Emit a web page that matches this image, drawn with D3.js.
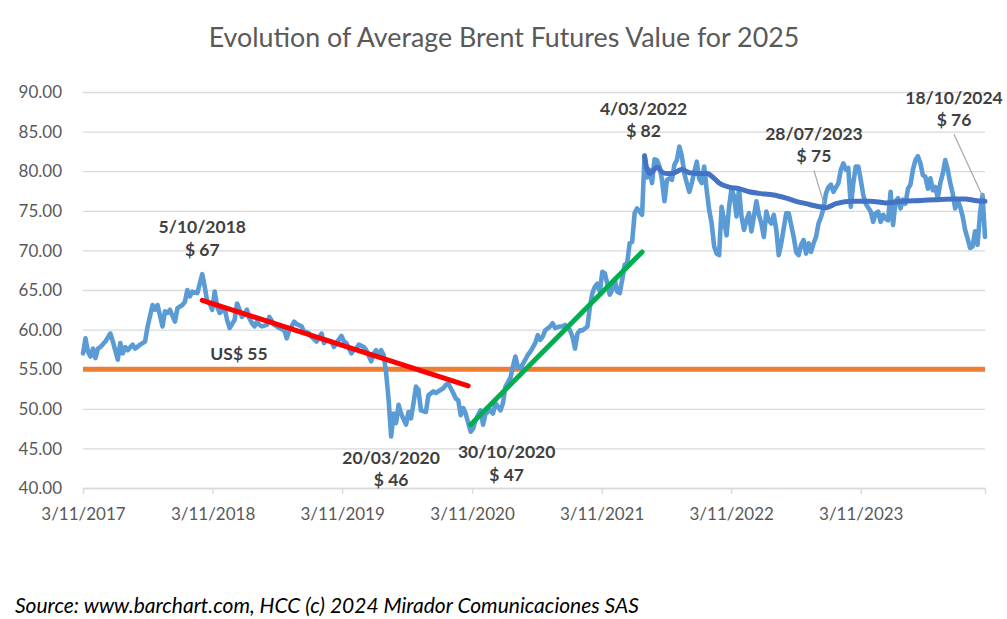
<!DOCTYPE html>
<html><head><meta charset="utf-8">
<script src="https://cdn.jsdelivr.net/npm/d3@7/dist/d3.min.js"></script>
<style>
html,body{margin:0;padding:0;background:#fff;}
svg text{font-family:Lato,"Open Sans",sans-serif;}
</style></head>
<body>
<svg id="chart" width="1007" height="619"></svg>
<script>
// ---------- DATA ----------
const title = "Evolution of Average Brent Futures Value for 2025";
const source = "Source: www.barchart.com, HCC (c) 2024 Mirador Comunicaciones SAS";
const startDate = "2017-11-03";          // weekly Friday closes, week 0
const lastWeek = 363;                    // 18/10/2024
const yTicks = [40, 45, 50, 55, 60, 65, 70, 75, 80, 85, 90];
const xTickLabels = ["3/11/2017","3/11/2018","3/11/2019","3/11/2020","3/11/2021","3/11/2022","3/11/2023"];
// [week since start, price]
const brent = [
[0,57.0],[1,58.9],[2,57.2],[3,56.6],[4,57.6],[5,56.4],[6,57.6],[7,57.8],[9,58.5],[11,59.5],[12,58.5],[14,56.2],[15,58.3],[16,57.0],[17,57.8],[18,57.4],[20,58.1],[21,57.6],[23,58.1],[25,58.5],[26,60.4],[28,63.1],[29,62.5],[30,63.1],[32,60.4],[33,62.3],[34,62.1],[35,62.5],[37,61.0],[38,62.7],[40,63.1],[41,63.5],[42,65.0],[43,64.2],[44,64.8],[46,64.6],[47,65.8],[48,67.0],[49,65.4],[50,63.5],[51,63.3],[52,62.5],[53,64.8],[54,62.9],[55,62.1],[57,62.7],[58,61.2],[59,60.2],[61,61.2],[62,63.3],[63,62.5],[64,61.6],[66,62.5],[67,61.4],[68,60.8],[69,60.4],[70,61.0],[71,60.6],[72,60.4],[74,60.6],
[75,61.6],[77,60.6],[79,60.2],[81,59.9],[82,58.9],[83,59.9],[85,61.0],[86,60.7],[88,60.4],[89,59.7],[90,59.7],[91,59.5],[92,59.1],[94,58.5],[96,59.5],[97,58.3],[98,58.7],[100,58.5],[101,57.8],[102,58.3],[104,59.2],[105,58.5],[106,58.3],[108,57.0],[109,57.4],[110,57.6],[111,58.1],[113,57.8],[114,57.4],[116,56.0],[117,57.0],[118,57.4],[119,56.6],[120,57.4],[121,56.8],[122,54.5],[123,51.1],[124,46.5],[125,49.4],[126,48.2],[127,50.5],[128,49.4],[130,48.0],[131,49.6],[132,48.8],[133,50.7],[134,52.8],[135,52.4],[136,49.8],[138,49.6],[139,51.7],[141,52.2],[142,52.0],[144,52.4],[145,52.6],[146,53.0],[147,53.2],[149,52.0],[150,51.3],[151,51.1],[152,49.2],[153,50.1],[154,49.4],[156,47.1],[157,47.5],
[158,48.6],[160,49.8],[161,48.0],[162,49.4],[164,49.8],[165,49.4],[166,50.7],[168,49.8],[169,50.7],[170,52.8],[172,53.9],[173,55.3],[174,56.6],[175,55.3],[176,55.1],[178,56.2],[179,56.8],[180,57.2],[182,58.3],[183,59.3],[184,58.7],[185,59.1],[186,59.9],[188,60.4],[189,60.8],[190,60.2],[192,60.4],[193,60.4],[194,60.6],[196,59.9],[197,59.1],[198,57.6],[199,59.5],[200,59.9],[201,59.9],[203,60.4],[204,62.9],[205,64.6],[206,65.4],[207,65.8],[208,64.8],[209,67.3],[210,67.1],[211,65.8],[212,64.4],[213,65.0],[214,66.3],[215,64.8],[216,64.6],[217,66.3],[218,68.2],[219,68.4],[220,70.9],[221,71.1],[222,74.7],[223,75.3],[224,74.9],[225,74.5],
[226,82.0],[227,79.2],[228,80.2],[229,78.5],[230,81.5],[231,81.4],[232,80.6],[233,78.9],[234,76.2],[235,78.9],[236,79.1],[237,78.9],[238,80.8],[239,81.4],[240,83.1],[241,81.9],[242,79.7],[243,78.5],[244,77.4],[245,78.5],[246,79.9],[247,81.2],[248,79.0],[249,78.5],[250,80.6],[251,77.6],[252,75.1],[253,73.4],[254,70.5],[255,69.6],[256,69.4],[257,75.5],[258,73.8],[259,71.9],[260,75.5],[261,77.8],[262,76.8],[263,74.3],[264,77.8],[265,74.3],[266,72.6],[267,73.8],[268,74.7],[269,72.4],[270,74.3],[271,76.2],[272,74.5],[273,73.4],[274,71.7],[275,74.9],[276,73.8],[277,73.4],[278,74.5],[279,72.6],[280,69.4],[281,70.9],[282,72.8],[283,74.7],[284,74.7],[285,73.2],[286,71.7],[287,69.8],[288,69.4],[289,70.7],[290,71.3],[291,69.6],[292,70.9],[293,69.8],[294,70.9],[295,71.7],[296,73.4],[297,74.2],
[298,75.3],[299,77.2],[300,78.0],[301,78.3],[302,77.4],[304,78.5],[305,80.2],[306,81.0],[307,80.2],[308,80.4],[309,75.5],[310,78.5],[311,80.6],[312,80.6],[313,78.9],[314,77.0],[315,75.9],[317,74.9],[318,73.6],[319,74.7],[320,74.9],[321,73.6],[322,74.5],[323,74.0],[324,73.8],[325,77.4],[326,73.2],[327,76.2],[328,76.6],[329,75.3],[330,76.4],[331,75.9],[332,77.8],[333,78.3],[334,80.2],[335,81.4],[336,81.9],[337,81.0],[338,79.5],[339,79.3],[340,77.8],[341,79.1],[342,77.6],[343,78.0],[344,76.6],[345,78.5],[346,79.7],[347,81.4],[348,80.2],[349,78.5],[350,77.2],[351,75.3],[352,76.4],[353,75.5],[354,74.3],[355,72.6],[356,71.5],[357,70.3],[358,70.5],[359,72.4],[360,70.7],[361,74.7],[362,77.0],[363,71.7]
];
// running average since 4/03/2022
const average = [
[226,81.9],[227,80.2],[228,79.7],[229,79.9],[231,80.5],[233,79.9],[235,79.7],[237,79.7],[241,80.2],[244,79.8],[248,79.7],[251,79.7],[254,79.1],[256,78.5],[260,78.0],[264,77.8],[268,77.4],[272,77.2],[278,77.0],[283,76.6],[287,76.2],[291,75.9],[295,75.6],[299,75.4],[303,75.9],[310,76.2],[317,76.2],[323,76.0],[330,76.2],[337,76.3],[343,76.4],[350,76.5],[355,76.5],[359,76.3],[363,76.2]
];
const downTrend = [[48,63.7],[155,52.9]];
const upTrend = [[156,48.0],[225,69.8]];
const reference = 55;
const referenceLabel = "US$ 55";
const annotations = [
  {date:"5/10/2018",  text:"$ 67", week:48,  value:67.0},
  {date:"20/03/2020", text:"$ 46", week:124, value:46.5},
  {date:"30/10/2020", text:"$ 47", week:156, value:47.1},
  {date:"4/03/2022",  text:"$ 82", week:226, value:82.0},
  {date:"28/07/2023", text:"$ 75", week:299, value:75.4},
  {date:"18/10/2024", text:"$ 76", week:363, value:76.2}
];

// ---------- LAYOUT ----------
const W = 1007, H = 619;
const plot = {left:83, right:985, top:92, bottom:488};
// label centre offsets relative to annotated point, and leader flags
const annLayout = [
  {dx:0,   dy:-47, leader:false},
  {dx:0,   dy:21,  leader:false},
  {dx:36,  dy:20,  leader:false},
  {dx:-1,  dy:-47, leader:false},
  {dx:-12, dy:-74, leader:true},
  {dx:-31, dy:-104,leader:true}
];

const parse = d3.timeParse("%Y-%m-%d");
const t0 = parse(startDate);
const wk = w => d3.timeDay.offset(t0, 7 * w);

const svg = d3.select("#chart");
const x = d3.scaleTime().domain([t0, wk(lastWeek)]).range([plot.left, plot.right]);
const y = d3.scaleLinear().domain([40, 90]).range([plot.bottom, plot.top]);
const tickDates = xTickLabels.map(s => d3.timeParse("%d/%m/%Y")(s));

// gridlines
svg.append("g")
  .attr("transform", `translate(${plot.left},0)`)
  .call(d3.axisLeft(y).tickValues(yTicks).tickSize(-(plot.right - plot.left)).tickFormat(""))
  .call(g => g.select(".domain").remove())
  .call(g => g.selectAll("line").attr("stroke", "#d9d9d9").attr("stroke-width", 1.3));

// y labels
svg.append("g").selectAll("text").data(yTicks).join("text")
  .attr("x", 62).attr("y", d => y(d)).attr("dy", "0.36em")
  .attr("text-anchor", "end").attr("fill", "#595959").attr("font-size", 17)
  .text(d => d3.format(".2f")(d));

// x axis
const xa = svg.append("g").attr("transform", `translate(0,${plot.bottom})`)
  .call(d3.axisBottom(x).tickValues(tickDates).tickSize(6).tickPadding(14).tickFormat((d, i) => xTickLabels[i]));
xa.select(".domain").attr("stroke", "#d9d9d9").attr("stroke-width", 1.3);
xa.selectAll(".tick line").attr("stroke", "#d9d9d9").attr("stroke-width", 1.3);
xa.selectAll(".tick text").attr("fill", "#595959").attr("font-size", 17)
  .attr("font-family", "Lato, sans-serif");

// reference line
svg.append("line")
  .attr("x1", plot.left).attr("x2", plot.right)
  .attr("y1", y(reference)).attr("y2", y(reference))
  .attr("stroke", "#ed7d31").attr("stroke-width", 5);

const line = d3.line().x(d => x(wk(d[0]))).y(d => y(d[1]));

svg.append("path").datum(brent).attr("d", line)
  .attr("fill", "none").attr("stroke", "#5b9bd5").attr("stroke-width", 4.6)
  .attr("stroke-linejoin", "round").attr("stroke-linecap", "round");

svg.append("path").datum(average).attr("d", line.curve(d3.curveMonotoneX))
  .attr("fill", "none").attr("stroke", "#4472c4").attr("stroke-width", 5)
  .attr("stroke-linejoin", "round").attr("stroke-linecap", "round");
line.curve(d3.curveLinear);

svg.append("path").datum(downTrend).attr("d", line)
  .attr("fill", "none").attr("stroke", "#ff0000").attr("stroke-width", 5).attr("stroke-linecap", "round");
svg.append("path").datum(upTrend).attr("d", line)
  .attr("fill", "none").attr("stroke", "#00b050").attr("stroke-width", 5).attr("stroke-linecap", "round");

// reference label
svg.append("text").attr("x", 239).attr("y", y(reference) - 16).attr("dy", "0.36em")
  .attr("text-anchor", "middle").attr("font-weight", "bold").attr("font-size", 17.5)
  .attr("fill", "#404040").text(referenceLabel);

// annotations
annotations.forEach((a, i) => {
  const L = annLayout[i];
  const px = x(wk(a.week)), py = y(a.value);
  const cx = px + L.dx, cy = py + L.dy;
  if (L.leader) {
    svg.append("line").attr("x1", cx).attr("y1", cy + 37)
      .attr("x2", px - 2).attr("y2", py - 4)
      .attr("stroke", "#a6a6a6").attr("stroke-width", 1.2);
  }
  const t = svg.append("text").attr("text-anchor", "middle").attr("font-weight", "bold")
    .attr("font-size", 17.5).attr("fill", "#404040");
  t.append("tspan").attr("x", cx).attr("y", cy).attr("dy", "0.36em").text(a.date);
  t.append("tspan").attr("x", cx).attr("y", cy + 22.5).attr("dy", "0.36em").text(a.text);
});

// title & source
svg.append("text").attr("x", 504).attr("y", 37).attr("dy", "0.36em")
  .attr("text-anchor", "middle").attr("font-size", 26.8).attr("fill", "#595959").text(title);
svg.append("text").attr("x", 15).attr("y", 605).attr("dy", "0.36em")
  .attr("font-size", 21).attr("font-style", "italic").attr("fill", "#000").text(source);
</script>
</body></html>
